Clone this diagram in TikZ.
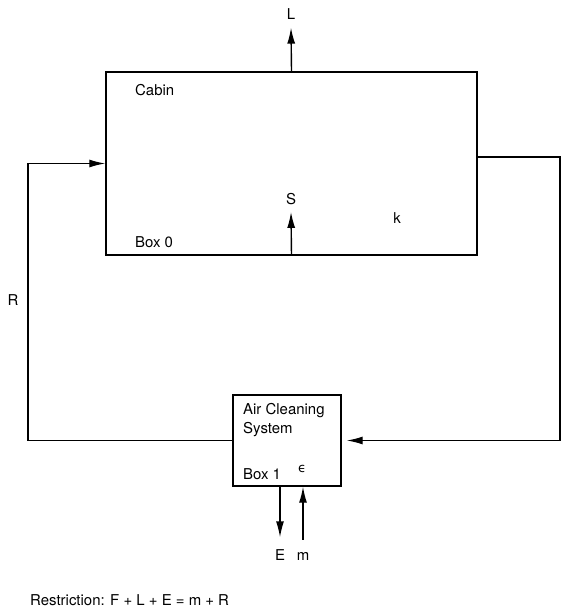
\documentclass[tikz,border=0pt]{standalone}
\usepackage{fontspec}
\setmainfont{TeX Gyre Heros}
\newfontfamily\symfont{DejaVu Sans}
\usetikzlibrary{arrows.meta}
\begin{document}
\begin{tikzpicture}[x=1bp,y=-1bp,
  flow/.style={line width=1.4bp,-{Latex[length=16bp,width=8bp]}},
  box/.style={draw,line width=1.4bp,rectangle,inner sep=0pt},
  lbl/.style={font=\fontsize{15}{18}\selectfont,inner sep=0pt}]
  \useasboundingbox (0,0) rectangle (568,615);
  % boxes
  \node[box,minimum width=371bp,minimum height=183bp] (cabin) at (291.5,163.5) {};
  \node[box,minimum width=108bp,minimum height=91bp] (acs) at (287,440.5) {};
  % texts in the boxes
  \node[lbl,anchor=west] (cabtxt) at (135,90) {Cabin};
  \node[lbl,anchor=west] (box0) at (135,242) {Box 0};
  \node[lbl] (k) at (397,218) {k};
  \node[lbl,anchor=north west,align=left] (acstxt) at (243,403) {Air Cleaning\\[1bp]System};
  \node[lbl,anchor=west] (box1) at (243,474) {Box 1};
  \node[lbl] (eps) at (302,469) {\symfont\fontsize{13}{15}\selectfont ϵ};
  % flows
  \node[lbl] (L) at (291,14) {L};
  \node[lbl] (S) at (291,199) {S};
  \node[lbl] (R) at (13,300) {R};
  \node[lbl] (E) at (280,555) {E};
  \node[lbl] (m) at (303,556) {m};
  \coordinate (lcorner) at (28,441);
  \coordinate (rcorner) at (560,157);
  \draw[flow] (cabin.north) -- ([yshift=-8bp]L.south);
  \draw[flow] (cabin.south) -- ([yshift=-7bp]S.south);
  \draw[flow] (acs.west) -- (acs.west -| lcorner) |- (cabin.west);
  \draw[line width=1.4bp] (cabin.east |- rcorner) -- (rcorner) |- ([xshift=15bp]acs.east);
  \draw[flow] ([xshift=16bp]acs.east) -- ([xshift=5bp]acs.east);
  \draw[flow] (acs.south -| E) -- ([yshift=12bp]E.north);
  \draw[flow] ([yshift=12bp]m.north) -- (acs.south -| m);
  \node[lbl,anchor=west] (restr) at (30,600) {Restriction: F + L + E = m + R};
\end{tikzpicture}
\end{document}
